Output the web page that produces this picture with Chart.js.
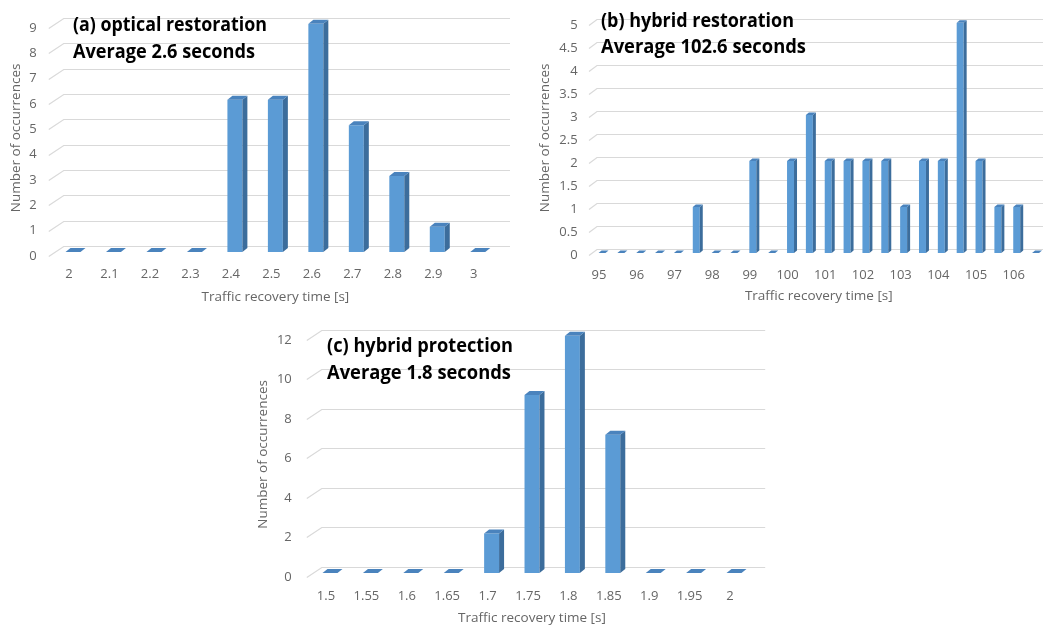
<!DOCTYPE html>
<html>
<head>
<meta charset="UTF-8">
<title>Traffic recovery time histograms</title>
<script src="https://cdn.jsdelivr.net/npm/chart.js@4.4.1/dist/chart.umd.min.js"></script>
<style>
    html, body {
        margin: 0;
        padding: 0;
        background: #fff;
    }
    body {
        position: relative;
        width: 1043px;
        height: 627px;
        overflow: hidden;
    }
    canvas {
        position: absolute;
    }
</style>
</head>
<body>

<canvas id="chartA" width="520" height="308" style="left:0;top:0"></canvas>
<canvas id="chartB" width="540" height="308" style="left:520px;top:0"></canvas>
<canvas id="chartC" width="540" height="317" style="left:250px;top:310px"></canvas>

<script>
    // (a) optical restoration
    const labelsA = ['2', '2.1', '2.2', '2.3', '2.4', '2.5', '2.6', '2.7', '2.8', '2.9', '3'];
    const countsA = [0, 0, 0, 0, 6, 6, 9, 5, 3, 1, 0];
    const yTicksA = [0, 9, 1];          // min, max, step

    // (b) hybrid restoration, bins of half a second
    const labelsB = ['95', '95.5', '96', '96.5', '97', '97.5', '98', '98.5', '99', '99.5', '100', '100.5',
                     '101', '101.5', '102', '102.5', '103', '103.5', '104', '104.5', '105', '105.5', '106', '106.5'];
    const countsB = [0, 0, 0, 0, 0, 1, 0, 0, 2, 0, 2, 3, 2, 2, 2, 2, 1, 2, 2, 5, 2, 1, 1, 0];
    const yTicksB = [0, 5, 0.5];

    // (c) hybrid protection
    const labelsC = ['1.5', '1.55', '1.6', '1.65', '1.7', '1.75', '1.8', '1.85', '1.9', '1.95', '2'];
    const countsC = [0, 0, 0, 0, 2, 9, 12, 7, 0, 0, 0];
    const yTicksC = [0, 12, 2];

    const titlesA = ['(a) optical restoration', 'Average 2.6 seconds'];
    const titlesB = ['(b) hybrid restoration', 'Average 102.6 seconds'];
    const titlesC = ['(c) hybrid protection', 'Average 1.8 seconds'];

    const FRONT = '#5b9bd5';
    const SIDE = '#3c6d9c';
    const TOP = '#4a83bd';
    const TEXT = '#666666';

    // back wall gridlines + bar side/top faces to fake the Excel 3D look
    const depthPlugin = {
        id: 'depth3d',
        beforeDatasetsDraw(chart, args, o) {
            const {ctx, chartArea} = chart;
            const y = chart.scales.y;
            ctx.save();
            ctx.strokeStyle = '#d9d9d9';
            ctx.lineWidth = 1.2;
            y.ticks.forEach(t => {
                const py = Math.round(y.getPixelForValue(t.value)) + 0.5;
                ctx.beginPath();
                ctx.moveTo(chartArea.left + o.front[0], py + o.front[1]);
                ctx.lineTo(chartArea.left + o.back[0], py + o.back[1]);
                ctx.lineTo(chartArea.right + o.extend, py + o.back[1]);
                ctx.stroke();
            });
            ctx.restore();
        },
        afterDatasetsDraw(chart, args, o) {
            const ctx = chart.ctx;
            const [dx, dy] = o.depth;
            ctx.save();
            chart.getDatasetMeta(0).data.forEach(bar => {
                const {x, y, base, width} = bar.getProps(['x', 'y', 'base', 'width'], true);
                const l = x - width / 2, r = x + width / 2;
                ctx.fillStyle = SIDE;
                ctx.beginPath();
                ctx.moveTo(r, y);
                ctx.lineTo(r + dx, y - dy);
                ctx.lineTo(r + dx, base - dy);
                ctx.lineTo(r, base);
                ctx.closePath();
                ctx.fill();
                ctx.fillStyle = TOP;
                ctx.beginPath();
                ctx.moveTo(l, y);
                ctx.lineTo(l + dx, y - dy);
                ctx.lineTo(r + dx, y - dy);
                ctx.lineTo(r, y);
                ctx.closePath();
                ctx.fill();
            });
            ctx.restore();
        },
        afterDraw(chart, args, o) {
            const ctx = chart.ctx;
            ctx.save();
            ctx.fillStyle = '#000';
            ctx.font = 'bold 19px "Open Sans"';
            ctx.textBaseline = 'middle';
            o.titles.forEach((txt, i) => {
                ctx.fillText(txt, o.titleX, o.titleY[i], o.titleW[i]);
            });
            ctx.restore();
        }
    };

    function makeChart(id, labels, counts, yTicks, g) {
        const canvas = document.getElementById(id);
        return new Chart(canvas, {
            type: 'bar',
            data: {
                labels: labels,
                datasets: [{
                    data: counts,
                    backgroundColor: FRONT,
                    borderWidth: 0,
                    categoryPercentage: 1,
                    barPercentage: 0.37
                }]
            },
            options: {
                responsive: false,
                animation: false,
                events: [],
                layout: {
                    padding: {left: 0, top: g.area[1], right: canvas.width - g.area[2], bottom: 0}
                },
                plugins: {
                    legend: {display: false},
                    tooltip: {enabled: false},
                    depth3d: g
                },
                scales: {
                    x: {
                        grid: {display: false},
                        border: {display: false},
                        ticks: {
                            autoSkip: false,
                            maxRotation: 0,
                            color: TEXT,
                            font: {family: 'Open Sans', size: 13},
                            padding: g.xPad,
                            labelOffset: g.xLabelOffset,
                            callback: function (v) {
                                const s = this.getLabelForValue(v);
                                return g.everyOther && s.includes('.') ? '' : s;
                            }
                        },
                        title: {
                            display: true,
                            text: 'Traffic recovery time [s]',
                            color: TEXT,
                            font: {family: 'Open Sans', size: 13.5},
                            padding: {top: 0, bottom: g.xTitlePad}
                        },
                        afterFit: s => { s.height = canvas.height - g.area[3]; }
                    },
                    y: {
                        min: yTicks[0],
                        max: yTicks[1],
                        grid: {display: false, drawTicks: false},
                        border: {display: false},
                        ticks: {
                            stepSize: yTicks[2],
                            color: TEXT,
                            font: {family: 'Open Sans', size: 13},
                            padding: g.yPad,
                            labelOffset: g.yLabelOffset,
                            callback: v => String(+v.toFixed(2))
                        },
                        title: {
                            display: true,
                            text: 'Number of occurrences',
                            color: TEXT,
                            font: {family: 'Open Sans', size: 13.5},
                            padding: {top: g.yTitlePad, bottom: 0}
                        },
                        afterFit: s => { s.width = g.area[0]; }
                    }
                }
            },
            plugins: [depthPlugin]
        });
    }

    // area = [left, top, right, bottom] of the bar plane inside each canvas
    makeChart('chartA', labelsA, countsA, yTicksA, {
        area: [52.75, 21, 498, 252],
        depth: [5, 4], front: [-4, 4], back: [11, -6], extend: 12,
        yPad: 16, yLabelOffset: 4, xPad: 6, xLabelOffset: -4,
        yTitlePad: 8, xTitlePad: 3,
        titles: titlesA, titleX: 73, titleY: [26, 53], titleW: [194, 182]
    });

    makeChart('chartB', labelsB, countsB, yTicksB, {
        area: [72.6, 13, 525, 253],
        depth: [3, 2.5], front: [-3.6, 2], back: [4.4, -4], extend: 20,
        yPad: 15, yLabelOffset: 2, xPad: 6, xLabelOffset: -3, everyOther: true,
        yTitlePad: 17, xTitlePad: 4,
        titles: titlesB, titleX: 81, titleY: [22, 48], titleW: [193, 205]
    });

    makeChart('chartC', labelsC, countsC, yTicksC, {
        area: [59.8, 21, 504.2, 263],
        depth: [5, 4], front: [-3, 4], back: [12, -6], extend: 11,
        yPad: 18, yLabelOffset: 4, xPad: 7, xLabelOffset: -4,
        yTitlePad: 5, xTitlePad: 1,
        titles: titlesC, titleX: 77, titleY: [37, 64], titleW: [186, 184]
    });
</script>
</body>
</html>
